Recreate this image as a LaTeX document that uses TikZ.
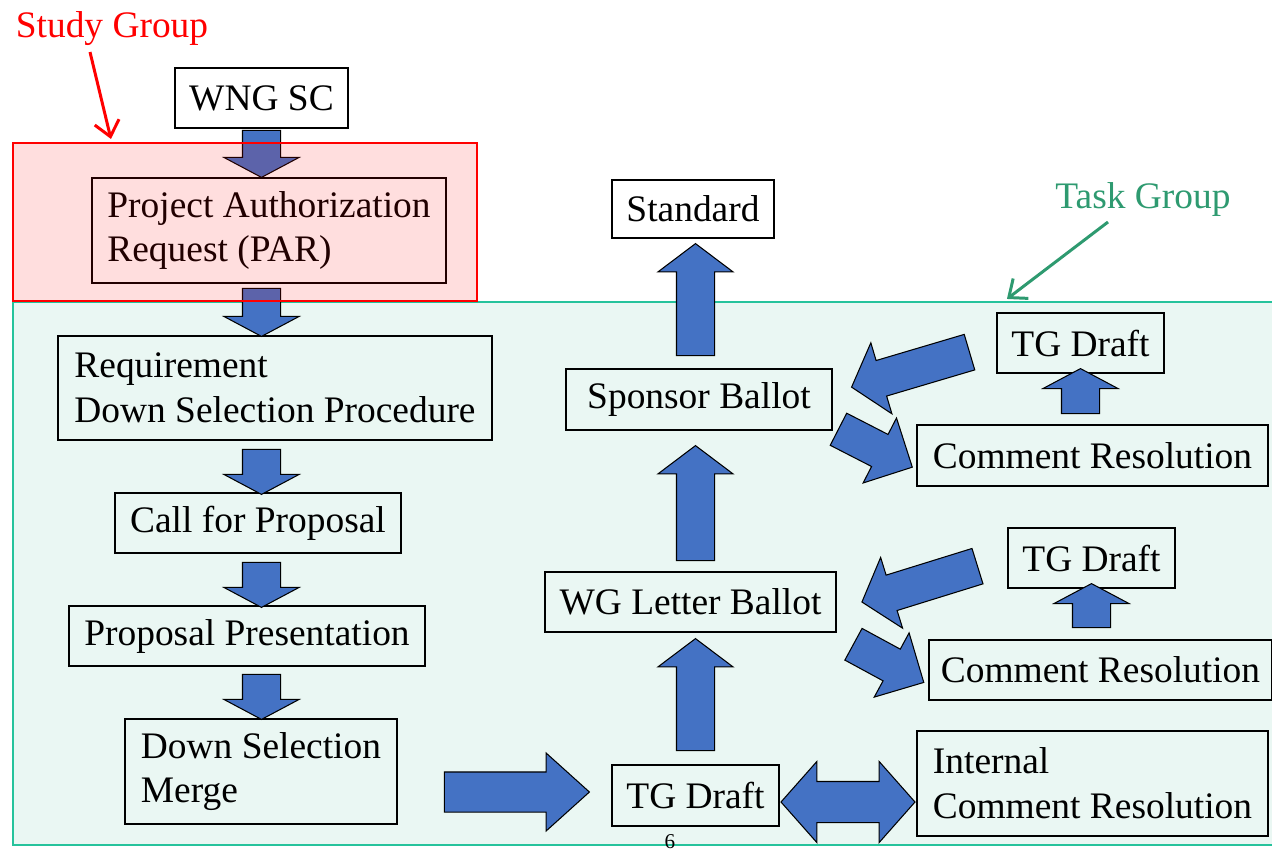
\documentclass[tikz,border=0pt]{standalone}
\usepackage{fontspec}
\setmainfont{Liberation Serif}
\usetikzlibrary{shapes.arrows,calc,arrows.meta}
\definecolor{arrowblue}{HTML}{4472C4}
\definecolor{tgline}{HTML}{26C39C}
\definecolor{tgfill}{HTML}{EAF7F3}
\definecolor{tgtext}{HTML}{2E9A70}
\newcommand{\pxu}{0.02cm}
\newcommand{\bigtxt}{\fontsize{21.3}{25.5}\selectfont}
\tikzset{
  box/.style={draw, line width=1pt, inner sep=0pt, align=left, font=\bigtxt},
  blk/.style={single arrow, draw=black, fill=arrowblue, line width=0.6pt,
    inner xsep=0pt, inner ysep=18.5*\pxu, anchor=tail,
    minimum width=74*\pxu, single arrow head extend=18.5*\pxu,
    single arrow tip angle=106, sloped, allow upside down},
  dblk/.style={double arrow, draw=black, fill=arrowblue, line width=0.6pt,
    inner xsep=0pt, inner ysep=20*\pxu,
    minimum width=80*\pxu, double arrow head extend=20*\pxu,
    double arrow tip angle=97, sloped, allow upside down},
  pointer/.style={line width=1.7pt, -{Straight Barb[length=3mm,width=5mm]}}
}
\begin{document}
\begin{tikzpicture}[x=0.02cm,y=-0.02cm]
\useasboundingbox (0,0) rectangle (1272,853);
% task group region
\node[draw=tgline, fill=tgfill, line width=1.2pt, minimum width=1263*\pxu, minimum height=543*\pxu] (tg) at (644.5,573.5) {};

% left column
\node[box, minimum width=173*\pxu, minimum height=60*\pxu] (wng) at (261.5,98) {WNG SC};
\node[box, minimum width=354*\pxu, minimum height=105*\pxu] (par) at (269,230.5) {Project Authorization\\Request (PAR)};
\node[box, minimum width=434*\pxu, minimum height=104*\pxu] (req) at (275,388) {Requirement\\Down Selection Procedure};
\node[box, minimum width=286*\pxu, minimum height=60*\pxu] (cfp) at (258,523) {Call for Proposal};
\node[box, minimum width=356*\pxu, minimum height=60*\pxu] (pp) at (247,636) {Proposal Presentation};
\node[box, minimum width=272*\pxu, minimum height=105*\pxu] (dsm) at (261,771.5) {Down Selection\\Merge};

% middle column
\node[box, minimum width=167*\pxu, minimum height=61*\pxu] (tgd) at (695.5,795.5) {TG Draft};
\node[box, minimum width=291*\pxu, minimum height=60*\pxu] (wglb) at (690.5,602) {WG Letter Ballot};
\node[box, minimum width=266*\pxu, minimum height=61*\pxu] (sb) at (699,399.5) {Sponsor Ballot};
\node[box, minimum width=162*\pxu, minimum height=58*\pxu] (std) at (693,209) {Standard};

% right column
\node[box, minimum width=351*\pxu, minimum height=105*\pxu] (icr) at (1092.5,783.5) {Internal\\Comment Resolution};
\node[box, minimum width=167*\pxu, minimum height=60*\pxu] (tgd1) at (1080.5,343) {TG Draft};
\node[box, minimum width=351*\pxu, minimum height=61*\pxu] (cr1) at (1092.5,455.5) {Comment Resolution};
\node[box, minimum width=167*\pxu, minimum height=60*\pxu] (tgd2) at (1091.5,558) {TG Draft};
\node[box, minimum width=343*\pxu, minimum height=60*\pxu] (cr2) at (1100.5,670) {Comment Resolution};

% block arrows, left column
\path ($(wng.south)+(0,1)$) -- (wng.south |- par.north) node[pos=0, blk, minimum height=47*\pxu, single arrow tip angle=124] {};
\path ($(wng.south |- par.south)+(0,4)$) -- (wng.south |- req.north) node[pos=0, blk, minimum height=48*\pxu, single arrow tip angle=124] {};
\path ($(wng.south |- req.south)+(0,8)$) -- (wng.south |- cfp.north) node[pos=0, blk, minimum height=45*\pxu, single arrow tip angle=124] {};
\path ($(wng.south |- cfp.south)+(0,8)$) -- (wng.south |- pp.north) node[pos=0, blk, minimum height=45*\pxu, single arrow tip angle=124] {};
\path ($(wng.south |- pp.south)+(0,7)$) -- (wng.south |- dsm.north) node[pos=0, blk, minimum height=45*\pxu, single arrow tip angle=124] {};
\path ($(dsm.east |- 0,792)+(46,0)$) -- (tgd.west |- 0,792) node[pos=0, blk, minimum height=145*\pxu, minimum width=78*\pxu, inner ysep=19*\pxu, single arrow tip angle=84] {};

% block arrows, middle column
\path ($(tgd.north)+(0,-13)$) -- (tgd.north |- wglb.south) node[pos=0, blk, minimum height=112*\pxu] {};
\path ($(tgd.north |- wglb.north)+(0,-10)$) -- (tgd.north |- sb.south) node[pos=0, blk, minimum height=115*\pxu] {};
\path ($(tgd.north |- sb.north)+(0,-12)$) -- (tgd.north |- std.south) node[pos=0, blk, minimum height=112*\pxu] {};
\path (tgd.east |- 0,802) -- (icr.west |- 0,802) node[midway, dblk, minimum height=134*\pxu] {};

% block arrows, review loops
\path (970,352) -- (852,387) node[pos=0, blk, minimum height=123*\pxu, minimum width=72*\pxu, inner ysep=18*\pxu, single arrow tip angle=100] {};
\path (838,429) -- (912,467) node[pos=0, blk, minimum height=83*\pxu, minimum width=70*\pxu, inner ysep=17.5*\pxu, single arrow tip angle=90] {};
\path ($(tgd1.south |- cr1.north)+(0,-10)$) -- (tgd1.south) node[pos=0, blk, minimum height=45*\pxu, single arrow tip angle=124] {};
\path (978,566) -- (862,602) node[pos=0, blk, minimum height=121*\pxu, minimum width=72*\pxu, inner ysep=18*\pxu, single arrow tip angle=100] {};
\path (853,644) -- (923,682) node[pos=0, blk, minimum height=80*\pxu, minimum width=70*\pxu, inner ysep=17.5*\pxu, single arrow tip angle=90] {};
\path ($(tgd2.south |- cr2.north)+(0,-11)$) -- (tgd2.south) node[pos=0, blk, minimum height=44*\pxu, single arrow tip angle=124] {};

% study group region (drawn over its arrows)
\node[draw=red, fill=red, fill opacity=0.13, line width=1.2pt, minimum width=464*\pxu, minimum height=158*\pxu] (sg) at (245,222) {};

% labels
\node[text=red, font=\bigtxt] (sglabel) at (112,29) {Study Group};
\node[text=tgtext, font=\bigtxt] (tglabel) at (1143,199) {Task Group};
\draw[pointer, red] ($(sglabel.center)+(-22,23)$) -- ($(sg.north west)+(99,-3)$);
\draw[pointer, tgtext] ($(tglabel.center)+(-35,23)$) -- ($(tg.north west)+(995,-2)$);
\node[font=\fontsize{12}{14}\selectfont] (pgnum) at (670,842) {6};
\end{tikzpicture}
\end{document}
